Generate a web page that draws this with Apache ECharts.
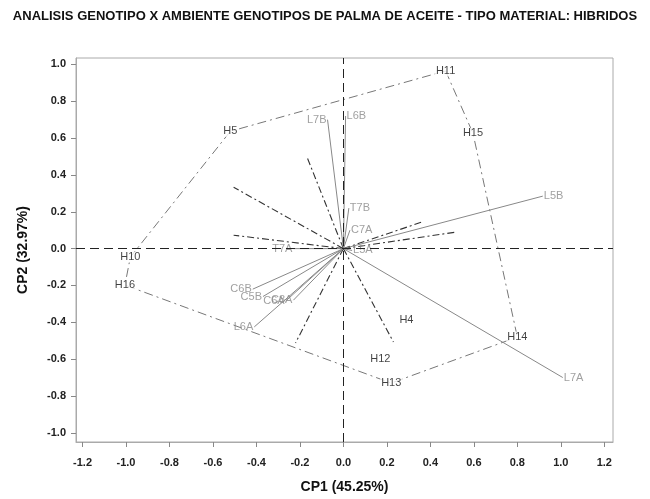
<!DOCTYPE html>
<html>
<head>
    <meta charset="utf-8">
    <title>ECharts</title>
    <script src="https://cdn.jsdelivr.net/npm/echarts@6/dist/echarts.min.js"></script>
    <style>
        body { margin: 0; background: #fff; }
    </style>
</head>
<body>
<div id="main" style="width: 650px;height:499px;"></div>
<script type="text/javascript">
    // genotipos (puntos negros)
    var genNames = ['H11', 'H15', 'H14', 'H13', 'H12', 'H4', 'H16', 'H10', 'H5'];
    var genCP1 = [0.47, 0.596, 0.80, 0.22, 0.17, 0.29, -1.005, -0.98, -0.52];
    var genCP2 = [0.965, 0.626, -0.48, -0.73, -0.60, -0.39, -0.198, -0.046, 0.637];

    // poligono (orden de los vertices)
    var hullOrder = ['H11', 'H15', 'H14', 'H13', 'H16', 'H10', 'H5', 'H11'];

    // ambientes (vectores grises)
    var envNames = ['L7B', 'L6B', 'T7B', 'C7A', 'L5B', 'L7A', 'T7A', 'C6B', 'C5B', 'C6A', 'C8A', 'L6A', 'L5A'];
    var envCP1 = [-0.073, 0.01, 0.025, 0.03, 0.917, 1.009, -0.23, -0.417, -0.37, -0.266, -0.23, -0.41, 0.04];
    var envCP2 = [0.70, 0.72, 0.22, 0.10, 0.285, -0.70, 0.0, -0.22, -0.26, -0.285, -0.28, -0.425, -0.01];

    // lineas perpendiculares a los lados del poligono
    var secCP1 = [-0.165, -0.505, -0.505, -0.22, 0.23, 0.514, 0.36];
    var secCP2 = [0.49, 0.333, 0.073, -0.512, -0.507, 0.089, 0.144];

    var xTicks = ['-1.2', '-1.0', '-0.8', '-0.6', '-0.4', '-0.2', '0.0', '0.2', '0.4', '0.6', '0.8', '1.0', '1.2'];

    var envLabelPos = {
        L7B: 'left', L6B: 'right', T7B: 'right', C7A: 'right', L5B: 'right', L7A: 'right',
        T7A: 'left', C6B: 'left', C5B: 'left', C6A: 'left', C8A: 'left', L6A: 'left', L5A: 'right'
    };

    var hullData = hullOrder.map(function (n) {
        var i = genNames.indexOf(n);
        return [genCP1[i], genCP2[i]];
    });
    var genData = genNames.map(function (n, i) {
        return { name: n, value: [genCP1[i], genCP2[i]] };
    });
    var envLines = [];
    var envPts = [];
    envNames.forEach(function (n, i) {
        envLines.push([0, 0], [envCP1[i], envCP2[i]], '-');
        envPts.push({
            name: n, value: [envCP1[i], envCP2[i]],
            label: { position: envLabelPos[n] }
        });
    });
    var secLines = [];
    secCP1.forEach(function (x, i) {
        secLines.push([0, 0], [x, secCP2[i]], '-');
    });

    var myChart = echarts.init(document.getElementById('main'));
    var option = {
        animation: false,
        title: {
            text: 'ANALISIS GENOTIPO X AMBIENTE GENOTIPOS DE PALMA DE ACEITE - TIPO MATERIAL: HIBRIDOS',
            left: 'center',
            top: 5,
            textStyle: { fontFamily: 'Liberation Sans', fontSize: 13, fontWeight: 'bold', color: '#111' }
        },
        grid: {
            left: 76, right: 37, top: 58, bottom: 57,
            show: true, borderColor: '#aaa', borderWidth: 1
        },
        xAxis: {
            type: 'value',
            min: -1.23, max: 1.24, splitNumber: 12,
            name: 'CP1 (45.25%)',
            nameLocation: 'middle',
            nameGap: 38,
            nameTextStyle: { fontFamily: 'Liberation Sans', fontSize: 14, fontWeight: 'bold', color: '#111' },
            axisLine: { onZero: false, lineStyle: { color: '#aaa' } },
            axisTick: { length: 5, lineStyle: { color: '#888' } },
            splitLine: { show: false },
            axisLabel: {
                showMinLabel: false, showMaxLabel: false,
                margin: 15,
                fontFamily: 'Liberation Sans', fontSize: 11, fontWeight: 'bold', color: '#222',
                formatter: function (v) {
                    var s = v.toFixed(1);
                    return xTicks.indexOf(s) >= 0 ? s : '';
                }
            }
        },
        yAxis: {
            type: 'value',
            min: -1.05, max: 1.035, splitNumber: 10,
            name: 'CP2 (32.97%)',
            nameLocation: 'middle',
            nameGap: 46,
            nameTextStyle: { fontFamily: 'Liberation Sans', fontSize: 14, fontWeight: 'bold', color: '#111' },
            axisLine: { onZero: false, lineStyle: { color: '#aaa' } },
            axisTick: { length: 5, lineStyle: { color: '#888' } },
            splitLine: { show: false },
            axisLabel: {
                showMinLabel: false, showMaxLabel: false,
                margin: 10,
                fontFamily: 'Liberation Sans', fontSize: 11, fontWeight: 'bold', color: '#222',
                formatter: function (v) { return v.toFixed(1); }
            }
        },
        series: [
            {
                type: 'line',
                data: [],
                markLine: {
                    silent: true,
                    symbol: 'none',
                    label: { show: false },
                    lineStyle: { color: '#222', type: [9, 5], width: 1 },
                    data: [{ xAxis: 0 }, { yAxis: 0 }]
                }
            },
            {
                type: 'line',
                data: hullData,
                showSymbol: false,
                lineStyle: { color: '#777', width: 1, type: [9, 4, 2, 4] },
                z: 2
            },
            {
                type: 'line',
                data: secLines,
                showSymbol: false,
                connectNulls: false,
                lineStyle: { color: '#333', width: 1.1, type: [7, 3, 2, 3] },
                z: 2
            },
            {
                type: 'line',
                data: envLines,
                showSymbol: false,
                connectNulls: false,
                lineStyle: { color: '#888', width: 1 },
                z: 3
            },
            {
                type: 'scatter',
                data: envPts,
                symbolSize: 0,
                z: 4,
                label: {
                    show: true,
                    formatter: '{b}',
                    distance: 1,
                    fontFamily: 'Liberation Sans', fontSize: 11, color: '#888'
                }
            },
            {
                type: 'scatter',
                data: genData,
                symbolSize: 0,
                z: 5,
                label: {
                    show: true,
                    position: 'inside',
                    formatter: '{b}',
                    backgroundColor: '#fff',
                    padding: [0, 1],
                    fontFamily: 'Liberation Sans', fontSize: 11, color: '#111'
                }
            }
        ]
    };
    myChart.setOption(option);
</script>
</body>
</html>
